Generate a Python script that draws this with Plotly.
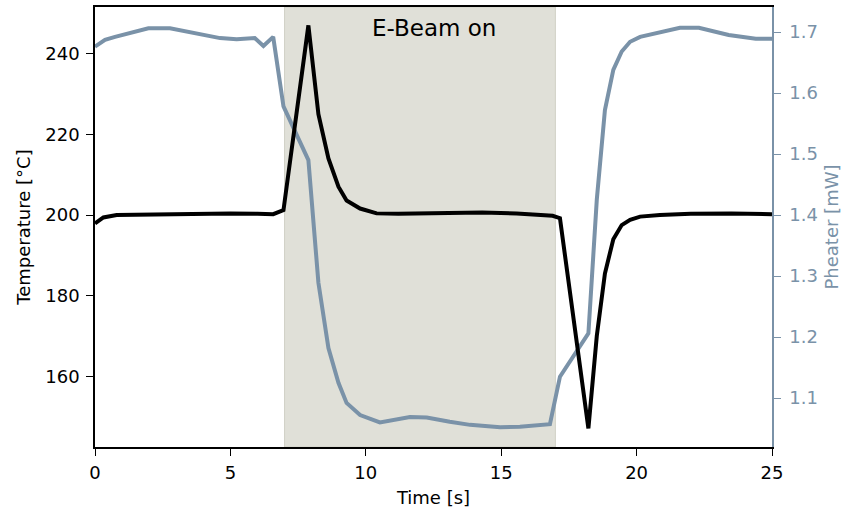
import plotly.graph_objects as go

# Temperature (black, left axis)
t_temp = [0, 0.31, 0.8, 1.5, 2.5, 3.75, 5.0, 6.0, 6.58, 6.96, 7.88, 8.25, 8.62, 8.99, 9.29,
          9.79, 10.4, 11.2, 12.0, 13.1, 14.3, 15.57, 16.5, 16.9, 17.17, 18.22, 18.53, 18.83,
          19.14, 19.45, 19.76, 20.13, 20.86, 22.0, 23.5, 25.0]
temperature = [197.9, 199.4, 200.0, 200.1, 200.2, 200.4, 200.4, 200.3, 200.2, 201.2, 247.0,
               225.0, 214.0, 207.0, 203.6, 201.6, 200.4, 200.3, 200.4, 200.6, 200.6, 200.4,
               200.1, 199.8, 199.2, 147.1, 170.0, 185.5, 194.0, 197.5, 198.8, 199.6, 200.0,
               200.3, 200.4, 200.2]

# Heater power (slate grey, right axis)
t_heat = [0, 0.37, 0.74, 1.41, 1.97, 2.77, 3.26, 4.0, 4.62, 5.23, 5.9, 6.22, 6.58, 6.96,
          7.88, 8.25, 8.62, 8.99, 9.29, 9.79, 10.52, 11.63, 12.25, 13.1, 13.85, 14.96, 15.69,
          16.8, 17.17, 18.22, 18.53, 18.83, 19.14, 19.45, 19.76, 20.13, 20.86, 21.6, 22.3,
          23.4, 24.4, 25.0]
pheater = [1.676, 1.687, 1.692, 1.699, 1.706, 1.706, 1.702, 1.695, 1.690, 1.688, 1.690,
           1.677, 1.692, 1.578, 1.490, 1.289, 1.182, 1.125, 1.092, 1.072, 1.060, 1.069,
           1.068, 1.061, 1.056, 1.052, 1.053, 1.057, 1.135, 1.206, 1.425, 1.572, 1.638,
           1.668, 1.684, 1.692, 1.700, 1.707, 1.707, 1.695, 1.689, 1.689]

beam_on = [7, 17]
x_ticks = [0, 5, 10, 15, 20, 25]
temp_ticks = [160, 180, 200, 220, 240]
heat_ticks = [1.1, 1.2, 1.3, 1.4, 1.5, 1.6, 1.7]

SLATE = "rgb(122,146,168)"
FONT = "DejaVu Sans"

fig = go.Figure()
fig.add_trace(go.Scatter(x=t_heat, y=pheater, mode="lines", yaxis="y",
                         line=dict(color=SLATE, width=4), showlegend=False))
fig.add_trace(go.Scatter(x=t_temp, y=temperature, mode="lines", yaxis="y2",
                         line=dict(color="black", width=4), showlegend=False))

fig.add_shape(type="rect", xref="x", yref="paper", x0=beam_on[0], x1=beam_on[1], y0=0, y1=1,
              fillcolor="rgb(224,224,216)", line=dict(color="rgb(208,208,198)", width=1),
              layer="below")

fig.add_annotation(x=12.5, y=246.3, xref="x", yref="y2", text="E-Beam on", showarrow=False,
                   font=dict(family=FONT, size=23, color="black"))

fig.update_layout(
    width=843, height=508,
    margin=dict(l=95, r=71, t=7, b=61),
    paper_bgcolor="white", plot_bgcolor="white",
    font=dict(family=FONT, size=18, color="black"),
    xaxis=dict(range=[0, 25], tickvals=x_ticks, showgrid=False, zeroline=False,
               showline=True, linecolor="black", linewidth=1.5, mirror=True, automargin=False,
               ticks="outside", ticklen=7, tickcolor="black", ticklabelstandoff=2,
               title=dict(text="Time [s]", font=dict(size=18), standoff=9)),
    yaxis=dict(range=[1.0197, 1.741], tickvals=heat_ticks, side="right", automargin=False,
               showgrid=False, zeroline=False, showline=True, linecolor=SLATE, linewidth=1.5,
               ticks="outside", ticklen=7, tickcolor=SLATE, ticklabelstandoff=5,
               tickfont=dict(color=SLATE, size=18),
               title=dict(text="Pheater [mW]", font=dict(color=SLATE, size=18), standoff=8)),
    yaxis2=dict(range=[142.5, 251.55], tickvals=temp_ticks, side="left", overlaying="y",
                automargin=False,
                showgrid=False, zeroline=False, showline=True, linecolor="black", linewidth=1.5,
                ticks="outside", ticklen=7, tickcolor="black", ticklabelstandoff=3,
                title=dict(text="Temperature [°C]", font=dict(size=18), standoff=10)),
)

fig.write_html("out.html")
